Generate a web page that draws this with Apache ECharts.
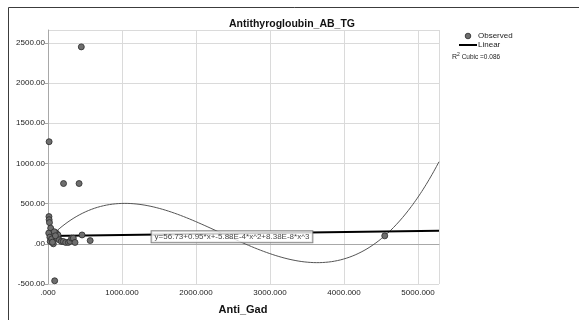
<!DOCTYPE html>
<html>
<head>
<meta charset="utf-8">
<script src="https://cdn.jsdelivr.net/npm/echarts@6/dist/echarts.min.js"></script>
<style>html,body{margin:0;padding:0;background:#fff}#c{width:579px;height:320px}</style>
</head>
<body>
<div id="c"></div>
<script>
// ---- data ----
const chartTitle = "Antithyrogloubin_AB_TG";
const xName = "Anti_Gad";
const observedX = [13, 15, 20, 36, 10, 25, 30, 72, 50, 112, 117, 135, 150, 180, 207, 239, 275, 297, 320, 342, 365, 60, 90, 460, 570, 4550, 15, 210, 420, 450, 85, 100];
const observedY = [339, 300, 264, 195, 133, 83, 29, 0, 60, 133, 71, 110, 50, 30, 29, 17, 17, 30, 70, 70, 17, 20, -460, 110, 40, 99, 1270, 750, 750, 2450, 150, 100];
const linearX = [0, 5283];
const linearY = [97, 163];
const cubicCoef = [56.73, 0.95, -5.88e-4, 8.38e-8];
const cubicRange = [70, 5283];
const equationText = "y=56.73+0.95*x+-5.88E-4*x^2+8.38E-8*x^3";
const equationAnchor = [1400, 87];
const xTicks = [0, 1000, 2000, 3000, 4000, 5000];
const yTicks = [-500, 0, 500, 1000, 1500, 2000, 2500];
const xRange = [0, 5283];
const yRange = [-500, 2660];
const legendItems = ["Observed", "Linear"];
const r2Text = "Cubic =0.086";

// ---- build ----
const observed = observedX.map((x, i) => [x, observedY[i]]);
const linear = linearX.map((x, i) => [x, linearY[i]]);
const cubicAt = x => cubicCoef[0] + cubicCoef[1]*x + cubicCoef[2]*x*x + cubicCoef[3]*x*x*x;
const cubic = [];
for (let x = cubicRange[0]; x < cubicRange[1]; x += 20) cubic.push([x, cubicAt(x)]);
cubic.push([cubicRange[1], cubicAt(cubicRange[1])]);

const FONT = "'Liberation Sans', Arial, sans-serif";
const chart = echarts.init(document.getElementById('c'), null, {renderer: 'canvas'});
chart.setOption({
  animation: false,
  backgroundColor: '#ffffff',
  grid: {left: 48, right: 140, top: 30, bottom: 36, containLabel: false},
  xAxis: {
    type: 'value', min: xRange[0], max: xRange[1], interval: 1000,
    axisLine: {show: true, lineStyle: {color: '#a8a8a8', width: 1}},
    axisTick: {show: false},
    splitLine: {show: true, lineStyle: {color: '#dadada', width: 1}},
    axisLabel: {
      margin: 5, fontSize: 8, color: '#222', fontFamily: FONT, showMaxLabel: false,
      formatter: v => xTicks.indexOf(v) >= 0 ? (v === 0 ? '.000' : v.toFixed(3)) : ''
    }
  },
  yAxis: {
    type: 'value', min: yRange[0], max: yRange[1], interval: 500,
    axisLine: {show: true, lineStyle: {color: '#a8a8a8', width: 1}},
    axisTick: {show: true, length: 3, lineStyle: {color: '#a8a8a8'}},
    splitLine: {show: true, lineStyle: {color: '#dadada', width: 1}},
    axisLabel: {
      margin: 3, fontSize: 8, color: '#222', fontFamily: FONT, showMaxLabel: false,
      formatter: v => yTicks.indexOf(v) >= 0 ? (v === 0 ? '.00' : v.toFixed(2)) : ''
    }
  },
  graphic: [
    {type: 'rect', shape: {x: 8.5, y: 7.5, width: 700, height: 400}, style: {fill: 'none', stroke: '#3c3c3c', lineWidth: 1}, silent: true},
    {type: 'text', x: 292, y: 24, style: {text: chartTitle, font: "bold 10.5px " + FONT, fill: '#111', textAlign: 'center', textVerticalAlign: 'middle'}},
    {type: 'text', x: 243, y: 310, style: {text: xName, font: "bold 11px " + FONT, fill: '#111', textAlign: 'center', textVerticalAlign: 'middle'}},
    {type: 'circle', shape: {cx: 468, cy: 36, r: 2.8}, style: {fill: '#6e6e6e', stroke: '#2a2a2a', lineWidth: 0.8}},
    {type: 'text', x: 478, y: 36, style: {text: legendItems[0], font: "8px " + FONT, fill: '#222', textVerticalAlign: 'middle'}},
    {type: 'line', shape: {x1: 459, y1: 45, x2: 477, y2: 45}, style: {stroke: '#000', lineWidth: 2}},
    {type: 'text', x: 478, y: 45, style: {text: legendItems[1], font: "8px " + FONT, fill: '#222', textVerticalAlign: 'middle'}},
    {type: 'text', x: 452, y: 57, style: {
      text: '{r|R}{s|2}{t| ' + r2Text + '}',
      rich: {r: {font: "7px " + FONT, fill: '#222'}, s: {font: "5px " + FONT, fill: '#222', verticalAlign: 'top', padding: [0,0,4,0]}, t: {font: "6.5px " + FONT, fill: '#222'}},
      textVerticalAlign: 'middle'}}
  ],
  series: [
    {type: 'line', data: cubic, showSymbol: false, symbol: 'none', lineStyle: {color: '#555', width: 1}, z: 2, silent: true},
    {type: 'line', data: linear, showSymbol: false, symbol: 'none', lineStyle: {color: '#000', width: 2}, z: 3, silent: true},
    {type: 'scatter', data: observed, symbolSize: 6, itemStyle: {color: '#6e6e6e', borderColor: '#2a2a2a', borderWidth: 0.8, opacity: 1}, z: 4},
    {type: 'scatter', data: [equationAnchor], symbolSize: 0, z: 6,
      label: {show: true, position: 'right', distance: 0, formatter: equationText,
        fontSize: 8, fontFamily: FONT, color: '#111', backgroundColor: '#fff',
        borderColor: '#666', borderWidth: 1, padding: [2, 3, 1, 3]}}
  ]
});
</script>
</body>
</html>
